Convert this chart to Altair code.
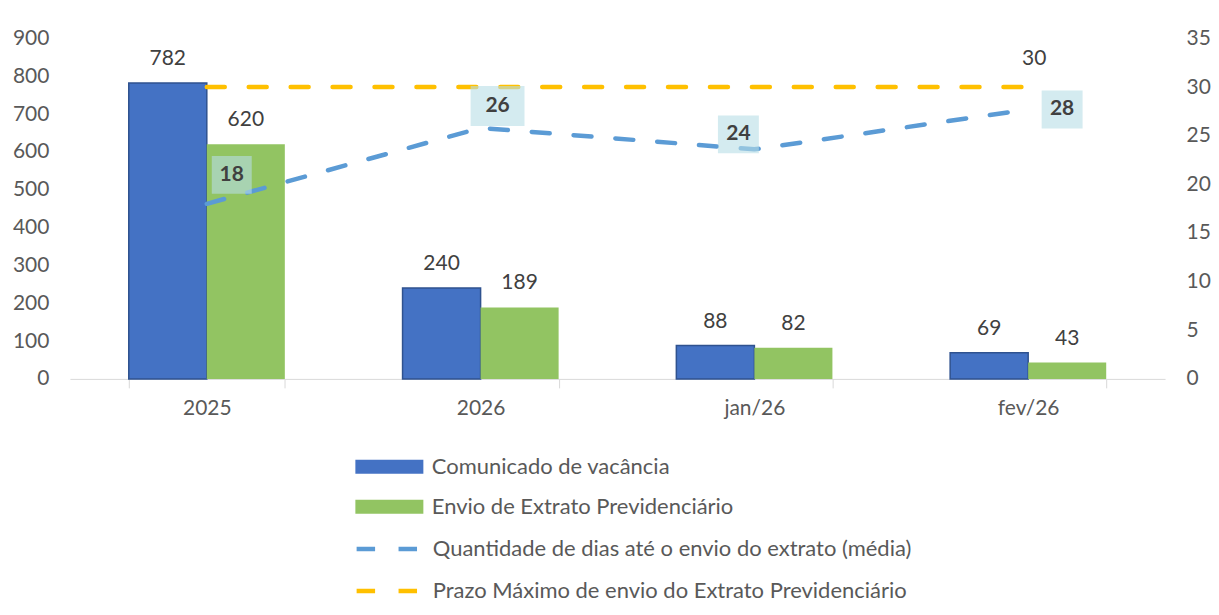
import altair as alt
import pandas as pd

# ---- data ----
categories = ["2025", "2026", "jan/26", "fev/26"]
comunicado = [782, 240, 88, 69]
envio = [620, 189, 82, 43]
dias = [18.0, 25.8, 23.6, 27.7]
prazo = [30, 30, 30, 30]

S1 = "Comunicado de vacância"
S2 = "Envio de Extrato Previdenciário"
S3 = "Quantidade de dias até o envio do extrato (média)"
S4 = "Prazo Máximo de envio do Extrato Previdenciário"

# ---- styles ----
FONT = "Lato"
BLUE = "#4472C4"
BLUE_EDGE = "#2F528F"
GREEN = "#92C462"
LBLUE = "#5B9BD5"
YELLOW = "#FFC000"
TXT = "#404040"
AX = "#595959"
FS = 21
LFS = 22
# label offsets (pixels) and label box sizes for the average-days labels, by category
label_offsets = {"2025": (25, -29), "2026": (17, -22), "jan/26": (-16, -15), "fev/26": (34, 0)}
box_sizes = {"2025": (40, 38), "2026": (54, 40), "jan/26": (41, 38), "fev/26": (41, 38)}

bars_df = pd.DataFrame({
    "cat": categories * 2,
    "series": [S1] * len(categories) + [S2] * len(categories),
    "value": comunicado + envio,
})
lines_df = pd.DataFrame({
    "cat": categories * 2,
    "series": [S3] * len(categories) + [S4] * len(categories),
    "val": dias + prazo,
})

x_enc = alt.X(
    "cat:N", sort=categories,
    scale=alt.Scale(paddingInner=0.43, paddingOuter=0.215),
    axis=alt.Axis(title=None, labelAngle=0, tickBand="extent", domainColor="#D9D9D9",
                  tickColor="#D9D9D9", tickSize=9, labelPadding=10, labelFontSize=FS,
                  labelColor=AX, labelFont=FONT),
)
xo_enc = alt.XOffset("series:N", sort=[S1, S2], scale=alt.Scale(domain=[S1, S2], paddingInner=0, paddingOuter=0))
y_left = alt.Y("value:Q", scale=alt.Scale(domain=[0, 900]),
               axis=alt.Axis(title=None, orient="left", values=list(range(0, 901, 100)), grid=False,
                             domain=False, ticks=False, tickSize=0, labelPadding=21, labelFontSize=FS,
                             labelColor=AX, labelFont=FONT, labelOverlap=False,
                             minExtent=62, maxExtent=62))
y_right = alt.Y("val:Q", scale=alt.Scale(domain=[0, 35]),
                axis=alt.Axis(title=None, orient="right", values=list(range(0, 36, 5)), grid=False,
                              domain=False, ticks=False, tickSize=0, labelPadding=21, labelFontSize=FS,
                              labelColor=AX, labelFont=FONT, labelOverlap=False))

bar_base = alt.Chart(bars_df)
bars = bar_base.mark_bar(stroke=BLUE_EDGE).encode(
    x=x_enc, xOffset=xo_enc, y=y_left,
    color=alt.Color("series:N", scale=alt.Scale(domain=[S1, S2], range=[BLUE, GREEN]),
                    legend=alt.Legend(title=None, orient="none", legendX=305, legendY=414,
                                      direction="vertical", symbolType="M-2.27,-0.47H2.27V0.47H-2.27Z",
                                      symbolSize=900, symbolStrokeWidth=0, symbolOpacity=1, padding=0,
                                      rowPadding=14, labelOffset=27.5, labelFontSize=LFS, labelColor=AX,
                                      labelFont=FONT, labelLimit=700)),
    strokeWidth=alt.condition(alt.datum.series == S1, alt.value(1.5), alt.value(0)),
)
bar_text = bar_base.mark_text(dy=-24, fontSize=FS, color=TXT, font=FONT).encode(
    x=x_enc, xOffset=xo_enc, y=y_left, text=alt.Text("value:Q"),
)
left = alt.layer(bars, bar_text)

line_base = alt.Chart(lines_df)
lines = line_base.mark_line(strokeWidth=4.5, strokeDash=[18, 24], strokeCap="round").encode(
    x=x_enc, y=y_right,
    stroke=alt.Stroke("series:N", scale=alt.Scale(domain=[S3, S4], range=[LBLUE, YELLOW]),
                      legend=alt.Legend(title=None, orient="none", legendX=300, legendY=494,
                                        direction="vertical", symbolType="M-2.02,0H2.02",
                                        symbolSize=900, symbolStrokeWidth=4.5, symbolDash=[18.5, 23.5],
                                        symbolOpacity=1, padding=0, rowPadding=13, labelOffset=28.5,
                                        labelFontSize=LFS, labelColor=AX, labelFont=FONT, labelLimit=700)),
    detail="series:N",
)

label_layers = []
for c in categories:
    dx, dy = label_offsets[c]
    bw, bh = box_sizes[c]
    hw, hh = bw / 40, bh / 40
    box_path = f"M-{hw:.3f},-{hh:.3f}H{hw:.3f}V{hh:.3f}H-{hw:.3f}Z"
    sub = line_base.transform_filter(
        (alt.datum.series == S3) & (alt.datum.cat == c)
    )
    box = sub.mark_point(shape=box_path, size=1600, filled=True, color="#B8DEE6", opacity=0.6,
                         strokeWidth=0, xOffset=dx, yOffset=dy).encode(x=x_enc, y=y_right)
    txt = sub.mark_text(fontSize=FS, fontWeight="bold", color=TXT, font=FONT,
                        xOffset=dx, yOffset=dy).encode(
        x=x_enc, y=y_right, text=alt.Text("val:Q", format=".0f"))
    label_layers += [box, txt]

prazo_label = line_base.transform_filter(
    (alt.datum.series == S4) & (alt.datum.cat == categories[-1])
).mark_text(fontSize=FS, color=TXT, font=FONT, dx=6, dy=-28).encode(
    x=x_enc, y=y_right, text=alt.Text("val:Q", format=".0f"))

right = alt.layer(lines, *label_layers, prazo_label)

chart = alt.layer(left, right).resolve_scale(y="independent").properties(
    width=1097, height=341,
    padding={"left": 0, "top": 19, "right": 0, "bottom": 5},
).configure(font=FONT).configure_view(strokeWidth=0, stroke="transparent")

chart.save("out.html", embed_options={"renderer": "svg", "actions": False})
